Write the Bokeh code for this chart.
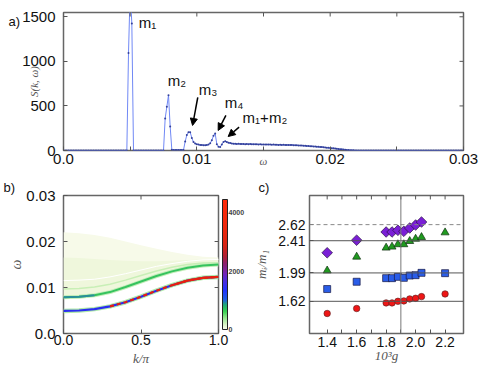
from bokeh.plotting import figure
from bokeh.models import (Range1d, FixedTicker, Span, Label, Arrow, NormalHead,
                          ColorBar, LinearColorMapper)
from bokeh.layouts import column, row
from bokeh.embed import file_html
from bokeh.resources import INLINE
from bokeh.core.properties import value

# ---------------- panel a data: S(k, omega) ----------------
omega_step = 0.000125
S_kw = ([0] * 39 + [1094, 1800, 1425] + [0] * 19 + [360, 490, 621, 270, 8] + [6] * 7 +
        [100, 175, 206, 206, 140, 94, 78, 70, 66, 63, 61, 60, 60, 61, 66, 80, 115, 165, 190, 70,
         42, 38, 68, 96, 104, 96, 88, 83, 79, 76] +
        [75, 73, 76, 74, 72, 74, 71, 73, 71, 72,
         70, 71, 69, 70, 68, 69, 67, 68, 66, 67,
         66, 67, 65, 66, 64, 65, 63, 65, 63, 64,
         62, 63, 61, 62, 63, 60, 59, 58, 57, 56,
         55, 54, 52, 51, 50, 48, 47, 45, 44, 42,
         41, 39, 38, 36, 34, 32, 30, 28, 26, 24,
         22, 19, 17, 15, 13, 11, 9, 7, 5, 4,
         3, 2, 1, 1] + [0] * 64)
omega = [i * omega_step for i in range(len(S_kw))]
a_xticks = [0, 0.01, 0.02, 0.03]
a_xminor = [0.005, 0.015, 0.025]
a_yticks = [0, 500, 1000, 1500]

# ---------------- panel b data: dispersion bands ----------------
k_grid = [0.0, 0.1, 0.2, 0.3, 0.4, 0.5, 0.6, 0.7, 0.8, 0.9, 1.0]
band1_omega = [0.0049, 0.0050, 0.0053, 0.0059, 0.0068, 0.0080, 0.0093, 0.0105, 0.0115, 0.0121, 0.0123]
band2_omega = [0.0079, 0.0080, 0.0083, 0.0090, 0.0101, 0.0113, 0.0125, 0.0135, 0.0143, 0.0148, 0.0150]
band3_omega = [0.0097, 0.0098, 0.0101, 0.0107, 0.0116, 0.0126, 0.0136, 0.0144, 0.0150, 0.0153, 0.0154]
band4_omega = [0.0115, 0.0116, 0.0118, 0.0123, 0.0130, 0.0138, 0.0146, 0.0152, 0.0157, 0.0160, 0.0161]
haze_mid = [0.0165, 0.0164, 0.0162, 0.0160, 0.0158, 0.0157, 0.0157, 0.0158, 0.0160, 0.0161, 0.0162]
haze_top = [0.0220, 0.0218, 0.0214, 0.0208, 0.0200, 0.0192, 0.0184, 0.0177, 0.0171, 0.0167, 0.0165]
b_xticks = [0, 0.5, 1.0]
b_yticks = [0, 0.01, 0.02, 0.03]
cbar_ticks = [0, 2000, 4000]
cbar_max = 4460

# ---------------- panel c data: mass ratios ----------------
g_vals = [1.40, 1.60, 1.80, 1.84, 1.88, 1.92, 1.96, 2.00, 2.04, 2.20]
ratio_m2 = [1.461, 1.526, 1.599, 1.599, 1.620, 1.625, 1.651, 1.659, 1.681, 1.716]
ratio_m3 = [1.780, 1.875, 1.922, 1.922, 1.939, 1.926, 1.956, 1.961, 1.991, 1.987]
ratio_m4 = [2.020, 2.200, 2.318, 2.331, 2.362, 2.362, 2.404, 2.434, 2.456, 2.517]
ratio_m12 = [2.253, 2.417, 2.524, 2.524, 2.546, 2.533, 2.576, 2.615, 2.654]
e8_lines = [2.41, 1.99, 1.62]
threshold_line = [2.62]
g_marker = [1.90]
c_xticks = [1.4, 1.6, 1.8, 2.0, 2.2]
c_xminor = [1.5, 1.7, 1.9, 2.1]
c_yticks = [1.62, 1.99, 2.41, 2.62]

SANS = "Liberation Sans"
SERIF = "Liberation Serif"
TICK_COL = "#555555"


def style_axes(p, tick_size="15px"):
    for ax in p.axis:
        ax.axis_line_color = None
        ax.major_tick_in = 4
        ax.major_tick_out = 0
        ax.minor_tick_in = 2
        ax.minor_tick_out = 0
        ax.major_tick_line_color = TICK_COL
        ax.minor_tick_line_color = TICK_COL
        ax.major_label_text_font = SANS
        ax.major_label_text_font_size = tick_size
        ax.major_label_text_color = "#111111"
        ax.axis_label_text_font = SERIF
        ax.axis_label_text_font_style = "italic"
        ax.axis_label_text_color = "#555555"
    p.grid.visible = False
    p.outline_line_color = "#666666"
    p.outline_line_width = 1.5


def mirror_ticks(p, xs, ys, xr, yr, fw, fh, L=4):
    # inward ticks on the top edge (xs) and right edge (ys)
    dy = (yr.end - yr.start) * L / fh
    dx = (xr.end - xr.start) * L / fw
    if xs:
        p.segment(x0=xs, x1=xs, y0=[yr.end] * len(xs), y1=[yr.end - dy] * len(xs),
                  line_color=TICK_COL, line_width=1)
    if ys:
        p.segment(x0=[xr.end] * len(ys), x1=[xr.end - dx] * len(ys), y0=ys, y1=ys,
                  line_color=TICK_COL, line_width=1)


def panel_title(p, text, offset):
    p.title.text = text
    p.title.align = "left"
    p.title.offset = offset
    p.title.standoff = 0
    p.title.vertical_align = "middle"
    p.title.text_font = SANS
    p.title.text_font_size = "13px"
    p.title.text_font_style = "normal"
    p.title.text_color = "#111111"


# ================= panel a =================
fa = figure(width=20, height=178, x_range=Range1d(0, 20), y_range=Range1d(0, 178),
            x_axis_type=None, y_axis_type=None, min_border=0, outline_line_color=None,
            output_backend="svg", toolbar_location=None)
fa.grid.visible = False
fa.text(x=[8], y=[167], text=["a)"], text_baseline="middle", text_align="left",
        text_font=value(SANS), text_font_size=value("13px"), text_color="#111111")

xr_a, yr_a = Range1d(0, 0.03), Range1d(0, 1548)
pa = figure(width=460, height=178, x_range=xr_a, y_range=yr_a,
            output_backend="svg", toolbar_location=None,
            min_border_left=43, min_border_right=17, min_border_top=12, min_border_bottom=28)
pa.line(omega, S_kw, line_color="#7088f5", line_width=1)
pa.scatter(omega, S_kw, size=2.0, fill_color="#34419a", line_color=None)
mirror_ticks(pa, a_xticks + a_xminor, a_yticks, xr_a, yr_a, 400, 138)

pa.xaxis.ticker = FixedTicker(ticks=a_xticks, minor_ticks=a_xminor)
pa.yaxis.ticker = FixedTicker(ticks=a_yticks, minor_ticks=[])
pa.xaxis.major_label_overrides = {0: "0.0"}
pa.xaxis.axis_label = "ω"
pa.yaxis.axis_label = "S(k, ω)"
style_axes(pa)
pa.xaxis.minor_tick_in = 4
pa.xaxis.major_label_standoff = 3
pa.xaxis.axis_label_text_font_size = "11px"
pa.xaxis.axis_label_standoff = -12
pa.yaxis.major_label_standoff = 8
pa.yaxis.axis_label_text_font_size = "11px"
pa.yaxis.axis_label_standoff = -21

lab_font = dict(text_font=SANS, text_font_size="15px", text_color="#111111",
                text_baseline="middle")
pa.add_layout(Label(x=0.00565, y=1434, text="m₁", **lab_font))
pa.add_layout(Label(x=0.00782, y=787, text="m₂", **lab_font))
pa.add_layout(Label(x=0.01015, y=686, text="m₃", **lab_font))
pa.add_layout(Label(x=0.0121, y=540, text="m₄", **lab_font))
pa.add_layout(Label(x=0.01343, y=371, text="m₁+m₂", **lab_font))
for (x0, y0, x1, y1) in [(0.01007, 596, 0.00968, 281), (0.01218, 394, 0.0116, 225),
                         (0.01317, 262, 0.01235, 157)]:
    pa.add_layout(Arrow(end=NormalHead(size=7, fill_color="black", line_color="black"),
                        x_start=x0, y_start=y0, x_end=x1, y_end=y1,
                        line_width=1.5, line_color="black"))

# ================= panel b =================
anchors = [(0.0, "#f6fbea"), (0.04, "#d4f2c0"), (0.09, "#8ee68a"), (0.14, "#35d04f"),
           (0.19, "#20a878"), (0.23, "#1f5fe0"), (0.3, "#2233ff"), (0.37, "#4a2ee0"),
           (0.43, "#7426b8"), (0.5, "#8a2070"), (0.56, "#b02035"), (0.65, "#d82414"),
           (0.8, "#f0280c"), (1.0, "#ff2a0a")]


def hex2rgb(h):
    return [int(h[i:i + 2], 16) for i in (1, 3, 5)]


palette = []
for j in range(256):
    t = j / 255
    for (t0, c0), (t1, c1) in zip(anchors[:-1], anchors[1:]):
        if t0 <= t <= t1:
            f = (t - t0) / (t1 - t0)
            a, b = hex2rgb(c0), hex2rgb(c1)
            palette.append("#%02x%02x%02x" % tuple(int(round(a[m] + f * (b[m] - a[m]))) for m in range(3)))
            break

xr_b, yr_b = Range1d(0, 1), Range1d(0, 0.03)
pb = figure(width=251, height=190, x_range=xr_b, y_range=yr_b, title="b)",
            output_backend="svg", toolbar_location=None,
            min_border_left=63, min_border_right=29, min_border_top=17, min_border_bottom=35)
pb.varea(x=k_grid, y1=band2_omega, y2=haze_top, fill_color="#f7fae9")
pb.varea(x=k_grid, y1=band2_omega, y2=haze_mid, fill_color="#eff7dc")
pb.line(k_grid, band4_omega, line_color="#ffffff", line_width=1)
pb.line(k_grid, band3_omega, line_color="#c8efb6", line_width=1.5)
pb.line(k_grid, band2_omega, line_color="#c2eeb8", line_width=4)
pb.line(k_grid, band2_omega, line_color="#36c35e", line_width=2)
pb.line(k_grid[:3], band2_omega[:3], line_color="#2a8f9a", line_width=2)
pb.line(k_grid, band1_omega, line_color="#b0ebab", line_width=4.5)
pb.line(k_grid, band1_omega, line_color="#2a2cf0", line_width=2.2)
pb.line(k_grid[3:], band1_omega[3:], line_color="#e8200e", line_width=2.2, line_dash="4 3")
pb.line(k_grid[7:], band1_omega[7:], line_color="#e8200e", line_width=2.2)
mirror_ticks(pb, b_xticks, b_yticks, xr_b, yr_b, 159, 138)

pb.xaxis.ticker = FixedTicker(ticks=b_xticks, minor_ticks=[])
pb.yaxis.ticker = FixedTicker(ticks=b_yticks, minor_ticks=[])
pb.xaxis.major_label_overrides = {0: "0.0", 0.5: "0.5", 1: "1.0"}
pb.yaxis.major_label_overrides = {0: "0.0"}
pb.xaxis.axis_label = "k/π"
pb.yaxis.axis_label = "ω"
style_axes(pb)
pb.xaxis.major_label_text_font_size = "14px"
pb.xaxis.major_label_standoff = 1
pb.xaxis.axis_label_text_font_size = "13px"
pb.xaxis.axis_label_standoff = 3
pb.yaxis.major_label_standoff = 8
pb.yaxis.axis_label_text_font_size = "14px"
pb.yaxis.axis_label_standoff = -1
panel_title(pb, "b)", -60)

mapper = LinearColorMapper(palette=palette, low=0, high=cbar_max)
cb = ColorBar(color_mapper=mapper, ticker=FixedTicker(ticks=cbar_ticks), width=5,
              padding=4, margin=0, label_standoff=1,
              major_label_text_font_size="7px", major_label_text_font_style="bold",
              major_label_text_font=SANS,
              major_tick_line_color=None, major_tick_in=0, major_tick_out=0,
              bar_line_color="#222222",
              border_line_color=None, background_fill_color=None)
pb.add_layout(cb, "right")

# ================= panel c =================
xr_c, yr_c = Range1d(1.28, 2.325), Range1d(1.2, 3.0)
pc = figure(width=229, height=190, x_range=xr_c, y_range=yr_c, title="c)",
            output_backend="svg", toolbar_location=None,
            min_border_left=52, min_border_right=17, min_border_top=16, min_border_bottom=34)
for yv in e8_lines:
    pc.add_layout(Span(location=yv, dimension="width", line_color="#555555", line_width=1))
for yv in threshold_line:
    pc.add_layout(Span(location=yv, dimension="width", line_color="#888888", line_width=1,
                       line_dash="4 3"))
for xv in g_marker:
    pc.add_layout(Span(location=xv, dimension="height", line_color="#777777", line_width=1))

pc.scatter(g_vals, ratio_m2, marker="circle", size=6.5, fill_color="#ee1616", line_color="#552222",
           line_width=0.6)
pc.scatter(g_vals, ratio_m3, marker="square", size=7, fill_color="#2a5de8", line_color="#1a1a44",
           line_width=0.7)
pc.scatter(g_vals, ratio_m4, marker="triangle", size=8, fill_color="#1f9a1f", line_color="#113311",
           line_width=0.7)
pc.scatter(g_vals[:len(ratio_m12)], ratio_m12, marker="square", angle=0.785398, size=7.5,
           fill_color="#7a1fd6", line_color="#2a1144", line_width=0.7)
mirror_ticks(pc, c_xticks + c_xminor, [], xr_c, yr_c, 160, 140)

pc.xaxis.ticker = FixedTicker(ticks=c_xticks, minor_ticks=c_xminor)
pc.yaxis.ticker = FixedTicker(ticks=c_yticks, minor_ticks=[])
pc.xaxis.major_label_overrides = {1.4: "1.4", 1.6: "1.6", 1.8: "1.8", 2.0: "2.0", 2.2: "2.2"}
pc.xaxis.axis_label = "10³g"
pc.yaxis.axis_label = "mᵢ/m₁"
style_axes(pc, tick_size="14px")
pc.xaxis.minor_tick_in = 4
pc.xaxis.major_label_standoff = 3
pc.xaxis.axis_label_text_font_size = "13px"
pc.xaxis.axis_label_standoff = -2
pc.yaxis.major_label_standoff = 4
pc.yaxis.axis_label_text_font_size = "13px"
pc.yaxis.axis_label_standoff = 6
panel_title(pc, "c)", -51)

layout = column(row(fa, pa), row(pb, pc))
open("out.html", "w").write(file_html(layout, INLINE))
